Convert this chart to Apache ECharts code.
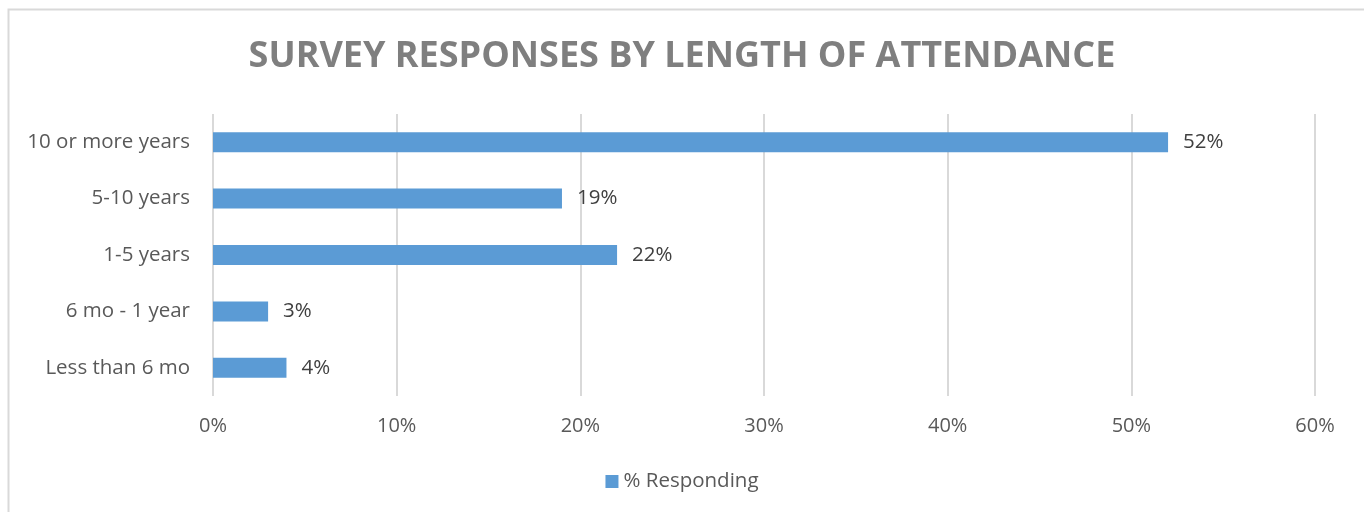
<!DOCTYPE html>
<html lang="en">
  <head>
    <meta charset="UTF-8" />
    <title>Survey responses by length of attendance</title>
    <script src="https://cdn.jsdelivr.net/npm/echarts@6.0.0/dist/echarts.min.js"></script>
    <style>
      html, body { margin: 0; padding: 0; background: #fff; }
      #main { width: 1364px; height: 512px; }
    </style>
  </head>
  <body>
    <div id="main"></div>

    <script>
      const categories = [
        'Less than 6 mo',
        '6 mo - 1 year',
        '1-5 years',
        '5-10 years',
        '10 or more years',
      ];
      const responding = [4, 3, 22, 19, 52];
      const seriesName = '% Responding';

      const font = '"Open Sans", "Liberation Sans", sans-serif';

      const options = {
        animation: false,
        textStyle: { fontFamily: font },
        title: {
          text: 'SURVEY RESPONSES BY LENGTH OF ATTENDANCE',
          left: 'center',
          top: 34,
          textStyle: {
            fontFamily: font,
            fontSize: 36,
            fontWeight: 'bold',
            color: '#7f7f7f',
          },
        },
        graphic: [
          {
            type: 'rect',
            left: 6,
            top: 7,
            shape: { width: 1400, height: 600 },
            style: { fill: 'none', stroke: '#d9d9d9', lineWidth: 2 },
            silent: true,
          },
        ],
        legend: {
          bottom: 15,
          left: 'center',
          itemWidth: 13,
          itemHeight: 13,
          itemGap: 6,
          textStyle: { fontFamily: font, fontSize: 20.5, color: '#595959' },
          data: [{ name: seriesName, icon: 'rect' }],
        },
        grid: {
          left: 213,
          right: 49,
          top: 114,
          bottom: 116,
        },
        xAxis: {
          type: 'value',
          min: 0,
          max: 60,
          interval: 10,
          axisLine: { show: false },
          axisTick: { show: false },
          axisLabel: {
            formatter: '{value}%',
            margin: 20,
            fontSize: 20,
            color: '#595959',
            fontFamily: font,
          },
          splitLine: { lineStyle: { color: '#d9d9d9', width: 2 } },
        },
        yAxis: {
          type: 'category',
          data: categories,
          axisLine: { show: false },
          axisTick: { show: false },
          axisLabel: {
            margin: 23,
            fontSize: 20.5,
            color: '#595959',
            fontFamily: font,
          },
        },
        series: [
          {
            name: seriesName,
            type: 'bar',
            data: responding,
            barWidth: 20,
            itemStyle: { color: '#5b9bd5' },
            label: {
              show: true,
              position: 'right',
              distance: 15,
              formatter: '{c}%',
              fontSize: 20.5,
              color: '#404040',
              fontFamily: font,
            },
          },
        ],
      };

      const myChart = echarts.init(document.querySelector('#main'));
      myChart.setOption(options);
    </script>
  </body>
</html>
